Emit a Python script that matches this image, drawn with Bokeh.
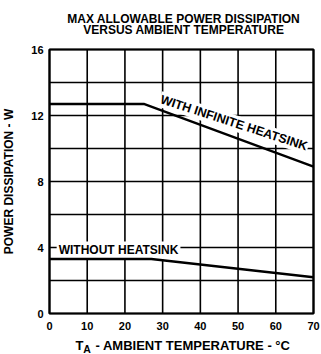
import math
from bokeh.plotting import figure
from bokeh.models import Range1d
from bokeh.core.properties import value
from bokeh.embed import file_html
from bokeh.resources import INLINE

# Data
temp_infinite = [0, 25, 70]
power_infinite = [12.7, 12.7, 8.9]
temp_without = [0, 27, 70]
power_without = [3.3, 3.3, 2.2]

x_ticks = [0, 10, 20, 30, 40, 50, 60, 70]
x_tick_labels = ["0", "10", "20", "30", "40", "50", "60", "70"]
y_grid = [0, 2, 4, 6, 8, 10, 12, 14, 16]
y_ticks = [0, 4, 8, 12, 16]
y_tick_labels = ["0", "4", "8", "12", "16"]
x_min, x_max = 0, 70
y_min, y_max = 0, 16

title_lines = ["MAX ALLOWABLE POWER DISSIPATION", "VERSUS AMBIENT TEMPERATURE"]
y_label = "POWER DISSIPATION - W"
x_label_main = "T"
x_label_sub = "A"
x_label_rest = "- AMBIENT TEMPERATURE - \u00b0C"
curve_labels = ["WITH INFINITE HEATSINK", "WITHOUT HEATSINK"]

FONT = value("Liberation Sans")

# layout (pixels): plotting area inside the canvas
W, H = 321, 354
left, right, top, bottom = 49, 313, 49, 313
sx = (right - left) / (x_max - x_min)
sy = (bottom - top) / (y_max - y_min)

p = figure(width=W, height=H, output_backend="svg", toolbar_location=None,
           x_range=Range1d(x_min - left / sx, x_max + (W - right) / sx),
           y_range=Range1d(y_min - (H - bottom) / sy, y_max + top / sy),
           x_axis_location=None, y_axis_location=None,
           min_border=0)
p.background_fill_color = "white"
p.border_fill_color = "white"
p.outline_line_color = None
p.grid.visible = False

# grid lines at the tick positions
p.segment(x0=x_ticks, y0=[y_min] * len(x_ticks), x1=x_ticks, y1=[y_max] * len(x_ticks),
          line_color="black", line_width=1.6)
p.segment(x0=[x_min] * len(y_grid), y0=y_grid, x1=[x_max] * len(y_grid), y1=y_grid,
          line_color="black", line_width=1.6)

# curve labels (white background, under the curves)
p.text(x=[28.6], y=[12.55], text=[curve_labels[0]], angle=-18 * math.pi / 180,
       text_font=FONT, text_font_style="bold", text_font_size="12.5px",
       text_align="left", text_baseline="bottom", text_color="black",
       background_fill_color="white", padding=1)
p.text(x=[1.9], y=[3.82], text=[curve_labels[1]], angle=0,
       text_font=FONT, text_font_style="bold", text_font_size="12px",
       text_align="left", text_baseline="middle", text_color="black",
       background_fill_color="white", padding=2)

# frame outline
p.quad(left=[x_min], right=[x_max], bottom=[y_min], top=[y_max],
       fill_color=None, line_color="black", line_width=2.2)

# curves
p.line(temp_infinite, power_infinite, line_color="black", line_width=2.4)
p.line(temp_without, power_without, line_color="black", line_width=2.4)

# tick labels
p.text(x=x_ticks, y=[y_min] * len(x_ticks), text=x_tick_labels, y_offset=8,
       text_font=FONT, text_font_style="bold", text_font_size="11px",
       text_align="center", text_baseline="top", text_color="black")
p.text(x=[x_min] * len(y_ticks), y=y_ticks, text=y_tick_labels, x_offset=-6,
       text_font=FONT, text_font_style="bold", text_font_size="11px",
       text_align="right", text_baseline="middle", text_color="black")

# title
mid_x = (x_min + x_max) / 2
p.text(x=[mid_x + 0.6], y=[y_max], text=[title_lines[0]], y_offset=-31,
       text_font=FONT, text_font_style="bold", text_font_size="12px",
       text_align="center", text_baseline="alphabetic", text_color="black")
p.text(x=[mid_x + 0.6], y=[y_max], text=[title_lines[1]], y_offset=-20,
       text_font=FONT, text_font_style="bold", text_font_size="12px",
       text_align="center", text_baseline="alphabetic", text_color="black")

# y axis label
p.text(x=[x_min], y=[(y_min + y_max) / 2], text=[y_label], x_offset=-40.5,
       angle=math.pi / 2, text_font=FONT, text_font_style="bold", text_font_size="12px",
       text_align="center", text_baseline="middle", text_color="black")

# x axis label with subscript
p.text(x=[x_min], y=[y_min], text=[x_label_main], x_offset=26, y_offset=32,
       text_font=FONT, text_font_style="bold", text_font_size="13px",
       text_align="left", text_baseline="alphabetic", text_color="black")
p.text(x=[x_min], y=[y_min], text=[x_label_sub], x_offset=33.8, y_offset=35,
       text_font=FONT, text_font_style="bold", text_font_size="10.5px",
       text_align="left", text_baseline="alphabetic", text_color="black")
p.text(x=[x_min], y=[y_min], text=[x_label_rest], x_offset=46, y_offset=32,
       text_font=FONT, text_font_style="bold", text_font_size="13px",
       text_align="left", text_baseline="alphabetic", text_color="black")

open("out.html", "w").write(file_html(p, INLINE))
